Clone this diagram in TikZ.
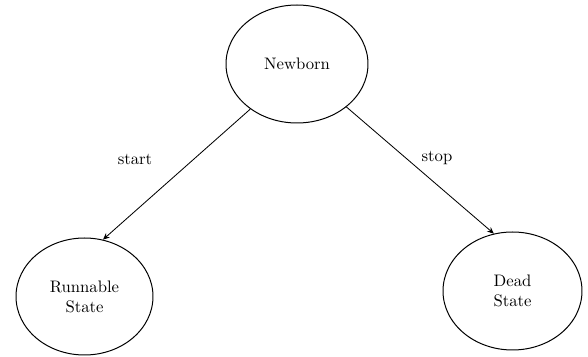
\documentclass[tikz,border=0pt]{standalone}
\usetikzlibrary{shapes.geometric,arrows.meta}
\begin{document}
\begin{tikzpicture}[x=0.6pt,y=-0.6pt,
  state/.style={ellipse,draw,line width=0.6pt,inner sep=0pt,align=center,font=\normalsize},
  conn/.style={draw,line width=0.5pt,-{Stealth[length=4pt,width=3.5pt]}},
  lbl/.style={font=\normalsize}]
\useasboundingbox (0,0) rectangle (588,357);
\node[state,minimum width=85.2pt,minimum height=70.8pt] (nb) at (297,64) {Newborn};
\node[state,minimum width=82.2pt,minimum height=70.2pt] (rs) at (84.5,296.5) {Runnable\\State};
\node[state,minimum width=83.4pt,minimum height=70.8pt] (ds) at (512.5,291) {Dead\\State};
\draw[conn] (nb.224.4) -- (rs.72.7);
\draw[conn] (nb.319.9) -- (ds.108.9);
\node[lbl] (l1) at (135,159) {start};
\node[lbl] (l2) at (437,158) {stop};
\end{tikzpicture}
\end{document}
